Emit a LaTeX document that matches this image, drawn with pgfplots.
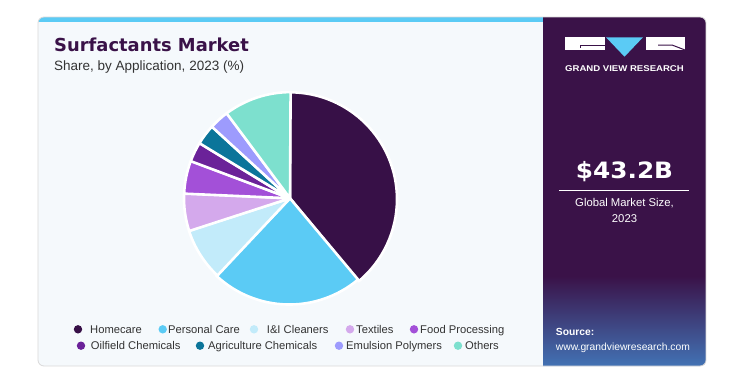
\documentclass[border=0pt]{standalone}
\usepackage{pgfplots}
\pgfplotsset{compat=1.18}
\usepackage{pgfplotstable}
\usepackage{graphicx}
\usepackage{fontspec}
\setmainfont{Liberation Sans}
\newfontfamily\dv{DejaVu Sans}

\definecolor{slice0}{HTML}{371047}
\definecolor{slice1}{HTML}{5BCBF5}
\definecolor{slice2}{HTML}{C2EBFA}
\definecolor{slice3}{HTML}{D4A9EC}
\definecolor{slice4}{HTML}{A350D8}
\definecolor{slice5}{HTML}{6B2299}
\definecolor{slice6}{HTML}{0B759A}
\definecolor{slice7}{HTML}{9D9BFD}
\definecolor{slice8}{HTML}{7DE0CE}
\definecolor{cardbg}{HTML}{F5F9FC}
\definecolor{panel}{HTML}{3A1248}
\definecolor{gridblue}{HTML}{4272B4}
\definecolor{cyanbar}{HTML}{5BCBF5}
\definecolor{titlec}{HTML}{3A1248}
\definecolor{subc}{HTML}{333333}

\pgfplotstableread{
value
38.9
23.1
8.0
5.7
5.0
3.0
3.1
3.0
10.2
}\piedata

\begin{document}
\begin{tikzpicture}[x=1pt,y=1pt]
\fill[white] (0,0) rectangle (730,376);
\begin{scope}
\clip[rounded corners=6pt] (38,10) rectangle (706,359);
\fill[cardbg] (38,10) rectangle (706,359);
\fill[panel] (543,10) rectangle (706,359);
\shade[top color=panel, bottom color=gridblue] (543,10) rectangle (706,100);
\fill[cyanbar] (38,354) rectangle (543,359);
\end{scope}
\draw[gray!30, rounded corners=6pt, line width=0.8pt] (38,10) rectangle (706,359);

% titles
\node[anchor=base west, inner sep=0, text=titlec] at (54,324.3) {\dv\bfseries\fontsize{17.9}{20}\selectfont Surfactants Market};
\node[anchor=base west, inner sep=0, text=subc] at (54,306) {\fontsize{13.5}{16}\selectfont Share, by Application, 2023 (\%)};

% logo
\fill[white] (564.7,326) rectangle (604.7,338.7);
\draw[panel, line width=1pt] (580.7,328) -- (580.7,331) -- (604.7,331);
\fill[white] (646,326) rectangle (685,338.7);
\draw[panel, line width=1pt] (658,331) -- (672,331) -- (685,326);
\fill[cyanbar] (606,338.7) -- (643,338.7) -- (624.5,319.3) -- cycle;
\node[anchor=base, inner sep=0, text=white] at (624.5,305) {\scalebox{1.14}[1]{\bfseries\fontsize{8.4}{10}\selectfont GRAND VIEW RESEARCH}};

% market size
\node[anchor=base, inner sep=0, text=white] at (624.5,197.7) {\scalebox{1.1}[1]{\dv\bfseries\fontsize{22.5}{25}\selectfont \$43.2B}};
\draw[white, line width=0.8pt] (559,185.3) -- (689,185.3);
\node[anchor=base, inner sep=0, text=white] at (624.5,169.3) {\fontsize{11.3}{13}\selectfont Global Market Size,};
\node[anchor=base, inner sep=0, text=white] at (624.5,153.7) {\fontsize{11.3}{13}\selectfont 2023};

% source
\node[anchor=base west, inner sep=0, text=white] at (555.7,40.3) {\bfseries\fontsize{10.3}{12}\selectfont Source:};
\node[anchor=base west, inner sep=0, text=white] at (555.7,26) {\fontsize{10.3}{12}\selectfont www.grandviewresearch.com};

% pie
\begin{axis}[at={(290pt,177.7pt)}, anchor=center, x=106pt, y=106pt,
  xmin=-1.1, xmax=1.1, ymin=-1.1, ymax=1.1, hide axis, clip=false]
\pgfplotstablegetrowsof{\piedata}
\pgfmathtruncatemacro{\N}{\pgfplotsretval-1}
\def\cum{0}
\pgfplotsforeachungrouped \i in {0,...,\N}{
  \pgfplotstablegetelem{\i}{value}\of\piedata
  \let\v\pgfplotsretval
  \pgfmathsetmacro{\a}{90-3.6*\cum}
  \pgfmathsetmacro{\b}{90-3.6*(\cum+\v)}
  \pgfmathsetmacro{\xa}{cos(\a)}
  \pgfmathsetmacro{\ya}{sin(\a)}
  \pgfmathsetmacro{\cum}{\cum+\v}
  \edef\temp{\noexpand\fill[slice\i, draw=white, line width=2.6pt, line join=round]
    (axis cs:0,0) -- (axis cs:\xa,\ya) arc[start angle=\a, end angle=\b, radius=107pt] -- cycle;}
  \temp
}
\end{axis}

% legend
\foreach \mx/\tx/\my/\ty/\c/\lab in {
  78/90/46.7/42.3/slice0/Homecare,
  162.7/168/46.7/42.3/slice1/Personal Care,
  254/266.7/46.7/42.3/slice2/I\&I Cleaners,
  350/356/46.7/42.3/slice3/Textiles,
  414/420/46.7/42.3/slice4/Food Processing,
  81/90.7/30.3/26.3/slice5/Oilfield Chemicals,
  200/208/30.3/26.3/slice6/Agriculture Chemicals,
  339/346/30.3/26.3/slice7/Emulsion Polymers,
  458/465/30.3/26.3/slice8/Others}{
  \fill[\c] (\mx,\my) circle (4.2);
  \node[anchor=base west, inner sep=0, text=subc] at (\tx,\ty) {\fontsize{11.2}{13}\selectfont \lab};
}
\end{tikzpicture}
\end{document}
